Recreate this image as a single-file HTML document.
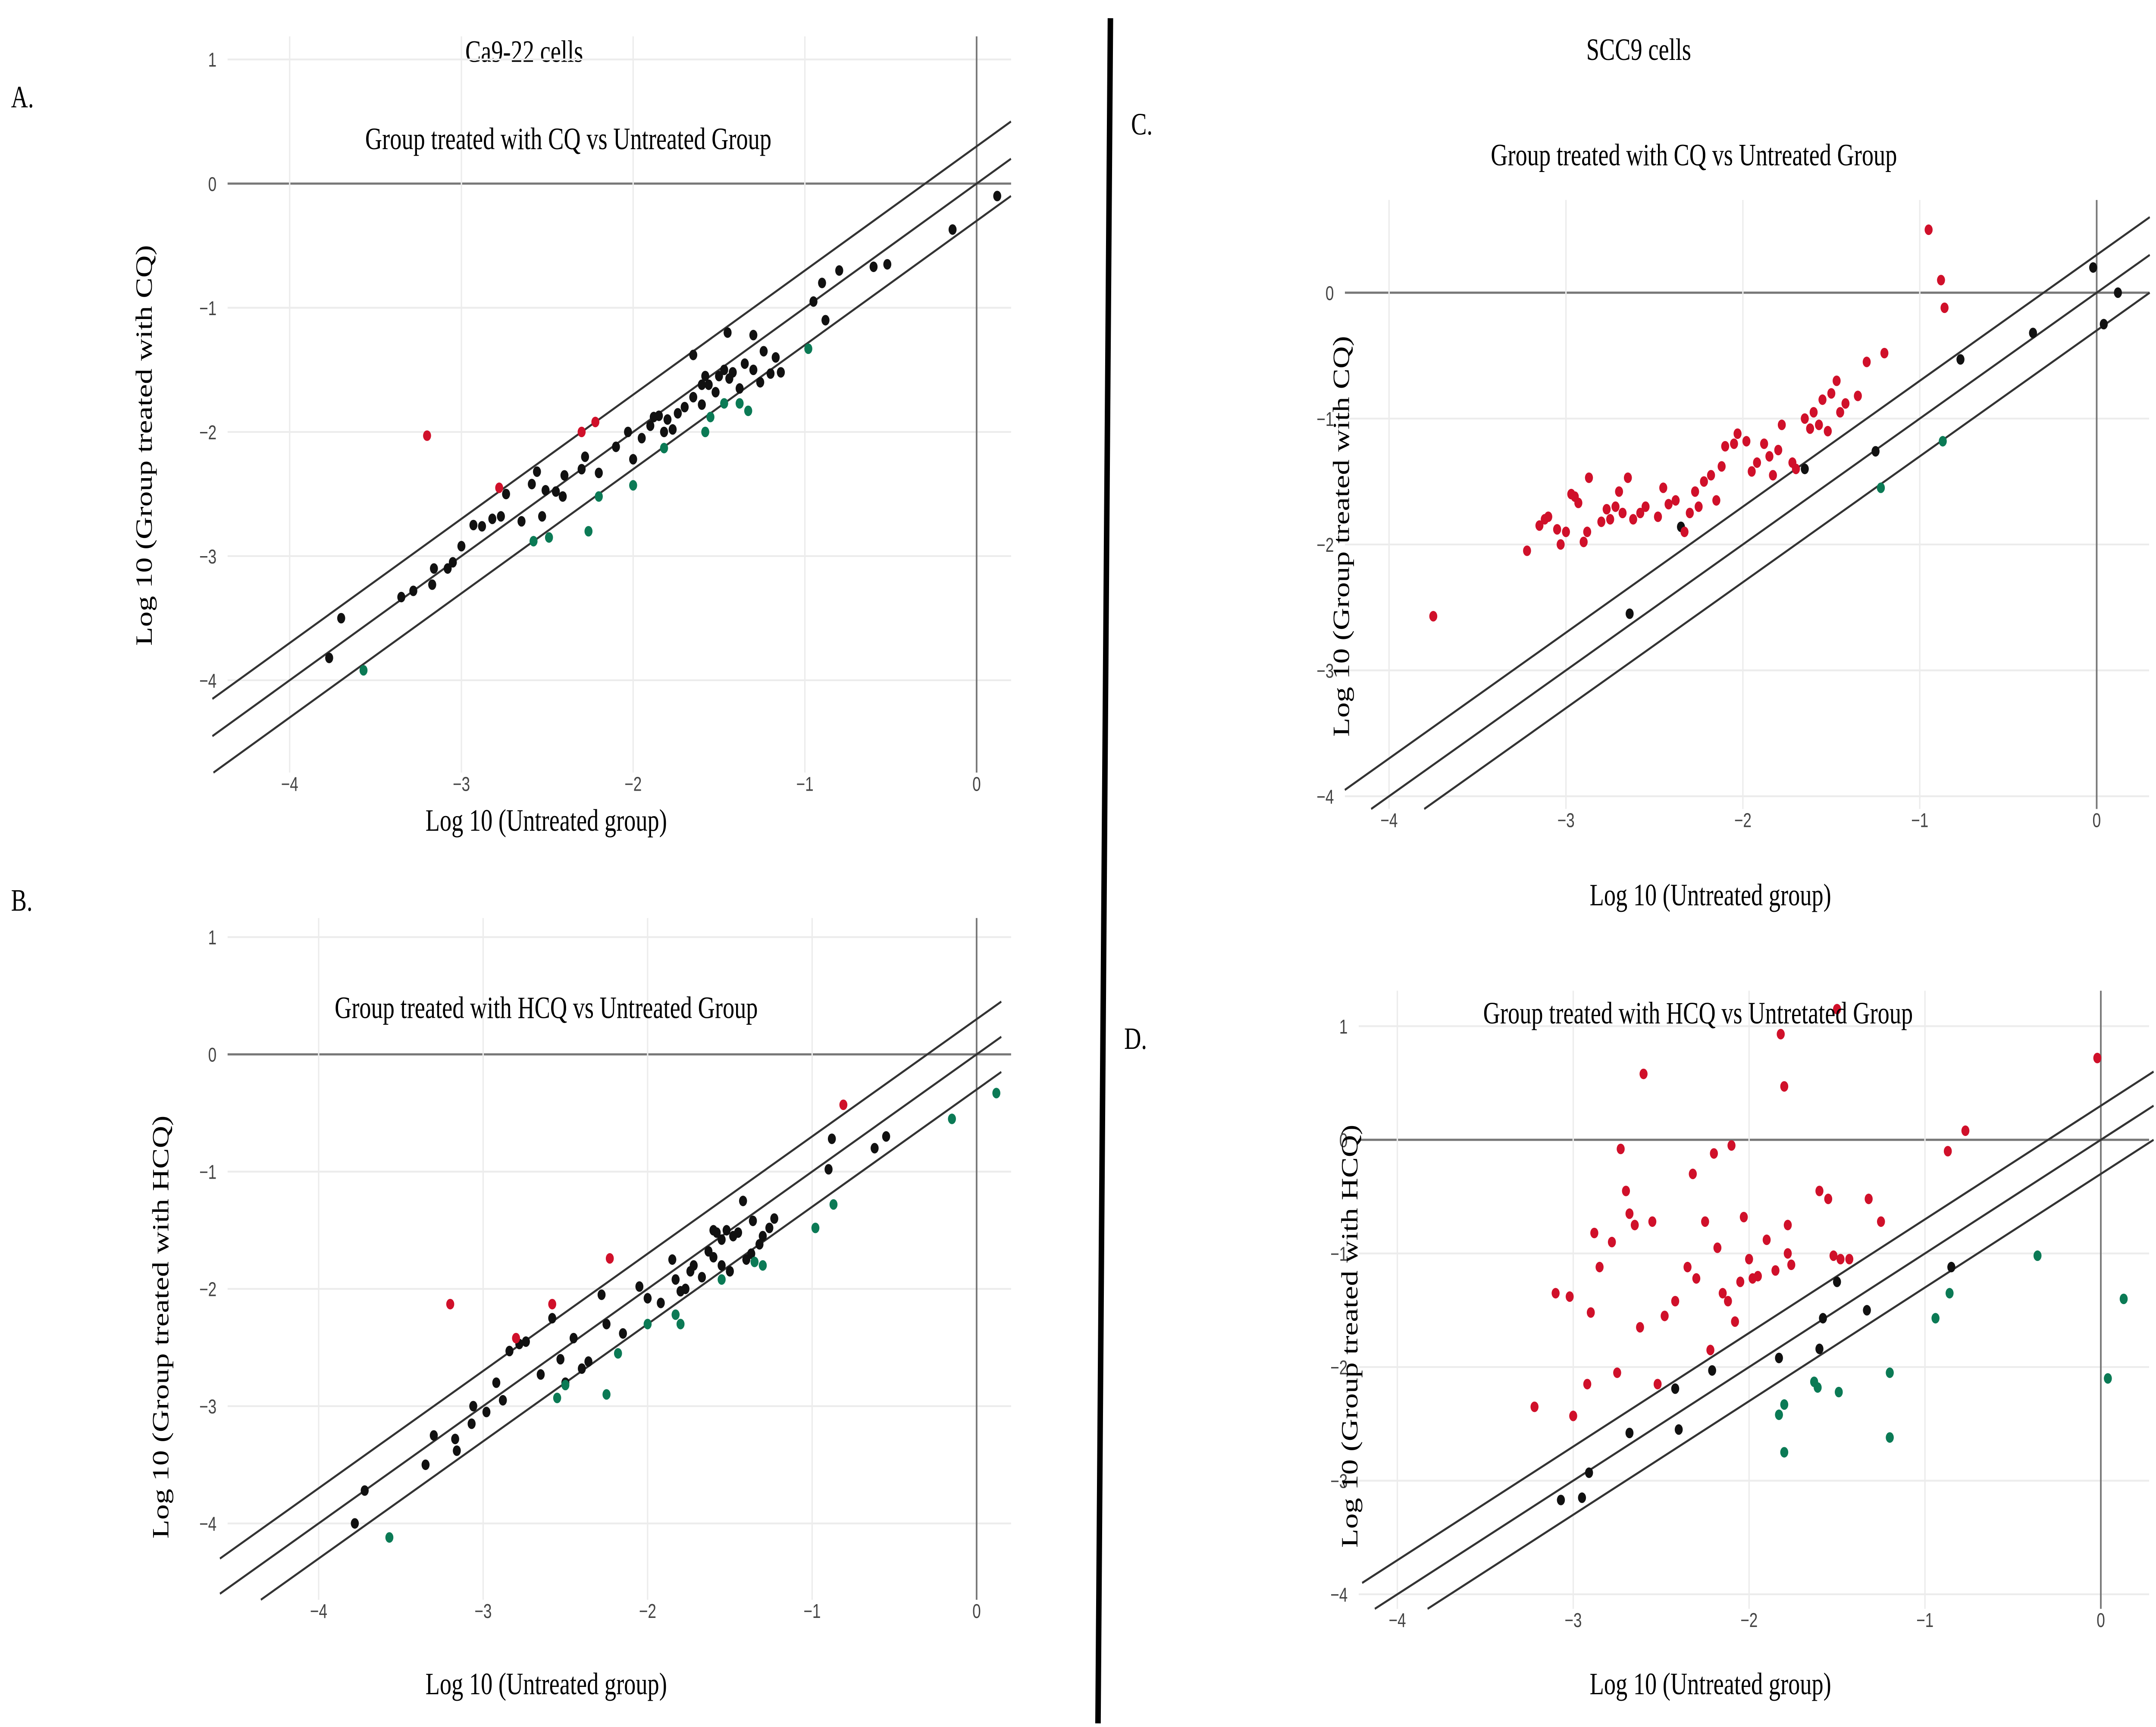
<!DOCTYPE html>
<html><head><meta charset="utf-8"><style>
html,body{margin:0;padding:0;background:#fff;width:100%;height:100%;overflow:hidden}
svg{display:block;width:100vw;height:100vh;position:absolute;left:0;top:0}
</style></head><body>
<svg id="fig" xmlns="http://www.w3.org/2000/svg" viewBox="0 0 1563 950" preserveAspectRatio="none">
<rect width="1563" height="950" fill="#fff"/>
<line x1="805" y1="10" x2="796" y2="948" stroke="#000" stroke-width="4"/>
<text x="8" y="59" font-family="Liberation Serif, serif" font-size="17">A.</text>
<text x="8" y="501" font-family="Liberation Serif, serif" font-size="17">B.</text>
<text x="820" y="74" font-family="Liberation Serif, serif" font-size="17">C.</text>
<text x="815" y="577" font-family="Liberation Serif, serif" font-size="17">D.</text>
<text x="380" y="34" text-anchor="middle" font-family="Liberation Serif, serif" font-size="17">Ca9-22 cells</text>
<text x="1188" y="33" text-anchor="middle" font-family="Liberation Serif, serif" font-size="17">SCC9 cells</text>
</svg>
<script>
// Panel A data
const aBlackX=[-3.77,-3.7,-3.35,-3.28,-3.17,-3.16,-3.08,-3.05,-3.0,-2.93,-2.88,-2.82,-2.77,-2.74,-2.65,-2.59,-2.56,-2.53,-2.51,-2.45,-2.41,-2.3,-2.28,-2.2,-2.1,-2.03,-2.0,-1.95,-1.85,-1.82,-1.8,-1.77,-1.74,-1.7,-1.65,-1.6,-1.56,-1.52,-1.5,-1.47,-1.44,-1.42,-1.38,-1.35,-1.3,-1.26,-1.24,-1.2,-1.17,-1.14,-1.6,-1.65,-1.58,-1.9,-1.88,-2.4,-1.3,-0.95,-0.9,-0.88,-0.8,-0.6,-0.52,-0.14,0.12,-1.45];
const aBlackY=[-3.82,-3.5,-3.33,-3.28,-3.23,-3.1,-3.1,-3.05,-2.92,-2.75,-2.76,-2.7,-2.68,-2.5,-2.72,-2.42,-2.32,-2.68,-2.47,-2.48,-2.52,-2.3,-2.2,-2.33,-2.12,-2.0,-2.22,-2.05,-1.87,-2.0,-1.9,-1.98,-1.85,-1.8,-1.72,-1.78,-1.62,-1.68,-1.55,-1.5,-1.57,-1.52,-1.65,-1.45,-1.5,-1.6,-1.35,-1.53,-1.4,-1.52,-1.62,-1.38,-1.55,-1.95,-1.88,-2.35,-1.22,-0.95,-0.8,-1.1,-0.7,-0.67,-0.65,-0.37,-0.1,-1.2];
const aRedX=[-3.2,-2.78,-2.3,-2.22];
const aRedY=[-2.03,-2.45,-2.0,-1.92];
const aGreenX=[-3.57,-2.58,-2.49,-2.26,-2.2,-2.0,-1.82,-1.58,-1.55,-1.47,-1.38,-1.33,-0.98];
const aGreenY=[-3.92,-2.88,-2.85,-2.8,-2.52,-2.43,-2.13,-2.0,-1.88,-1.77,-1.77,-1.83,-1.33];
// Panel B data
const bBlackX=[-3.78,-3.72,-3.35,-3.3,-3.17,-3.16,-3.07,-3.06,-2.98,-2.92,-2.88,-2.84,-2.78,-2.74,-2.65,-2.58,-2.53,-2.5,-2.45,-2.4,-2.36,-2.28,-2.25,-2.15,-2.05,-2.0,-1.92,-1.85,-1.83,-1.8,-1.77,-1.74,-1.72,-1.67,-1.63,-1.6,-1.58,-1.55,-1.52,-1.48,-1.45,-1.42,-1.4,-1.36,-1.32,-1.3,-1.26,-1.23,-1.6,-1.55,-1.5,-0.9,-0.88,-0.62,-0.55,-1.37];
const bBlackY=[-4.0,-3.72,-3.5,-3.25,-3.28,-3.38,-3.15,-3.0,-3.05,-2.8,-2.95,-2.53,-2.47,-2.45,-2.73,-2.25,-2.6,-2.8,-2.42,-2.68,-2.62,-2.05,-2.3,-2.38,-1.98,-2.08,-2.12,-1.75,-1.92,-2.02,-2.0,-1.85,-1.8,-1.9,-1.68,-1.73,-1.52,-1.58,-1.5,-1.55,-1.52,-1.25,-1.75,-1.42,-1.62,-1.55,-1.48,-1.4,-1.5,-1.8,-1.85,-0.98,-0.72,-0.8,-0.7,-1.7];
const bRedX=[-3.2,-2.8,-2.58,-2.23,-0.81];
const bRedY=[-2.13,-2.42,-2.13,-1.74,-0.43];
const bGreenX=[-3.57,-2.55,-2.5,-2.25,-2.18,-2.0,-1.83,-1.8,-1.55,-1.35,-1.3,-0.98,-0.87,-0.15,0.12];
const bGreenY=[-4.12,-2.93,-2.82,-2.9,-2.55,-2.3,-2.22,-2.3,-1.92,-1.77,-1.8,-1.48,-1.28,-0.55,-0.33];
// Panel C data
const cBlackX=[-2.64,-2.35,-1.65,-1.25,-0.77,-0.36,-0.02,0.04,0.12];
const cBlackY=[-2.55,-1.86,-1.4,-1.26,-0.53,-0.32,0.2,-0.25,0.0];
const cGreenX=[-1.22,-0.87];
const cGreenY=[-1.55,-1.18];
const cRedX=[-3.75,-3.22,-3.15,-3.12,-3.1,-3.05,-3.03,-3.0,-2.97,-2.95,-2.93,-2.9,-2.88,-2.87,-2.8,-2.77,-2.75,-2.72,-2.7,-2.68,-2.65,-2.62,-2.58,-2.55,-2.48,-2.45,-2.42,-2.38,-2.33,-2.3,-2.27,-2.25,-2.22,-2.18,-2.15,-2.12,-2.1,-2.05,-2.03,-1.98,-1.95,-1.92,-1.88,-1.85,-1.83,-1.8,-1.78,-1.72,-1.7,-1.65,-1.62,-1.6,-1.57,-1.55,-1.52,-1.5,-1.47,-1.45,-1.42,-1.35,-1.3,-1.2,-0.95,-0.88,-0.86];
const cRedY=[-2.57,-2.05,-1.85,-1.8,-1.78,-1.88,-2.0,-1.9,-1.6,-1.62,-1.67,-1.98,-1.9,-1.47,-1.82,-1.72,-1.8,-1.7,-1.58,-1.75,-1.47,-1.8,-1.75,-1.7,-1.78,-1.55,-1.68,-1.65,-1.9,-1.75,-1.58,-1.7,-1.5,-1.45,-1.65,-1.38,-1.22,-1.2,-1.12,-1.18,-1.42,-1.35,-1.2,-1.3,-1.45,-1.25,-1.05,-1.35,-1.4,-1.0,-1.08,-0.95,-1.05,-0.85,-1.1,-0.8,-0.7,-0.95,-0.88,-0.82,-0.55,-0.48,0.5,0.1,-0.12];
// Panel D data
const dBlackX=[-3.07,-2.95,-2.91,-2.68,-2.42,-2.4,-2.21,-1.83,-1.6,-1.58,-1.5,-1.33,-0.85];
const dBlackY=[-3.17,-3.15,-2.93,-2.58,-2.19,-2.55,-2.03,-1.92,-1.84,-1.57,-1.25,-1.5,-1.12];
const dGreenX=[-1.83,-1.8,-1.8,-1.63,-1.61,-1.49,-1.2,-1.2,-0.94,-0.86,-0.36,0.04,0.13];
const dGreenY=[-2.42,-2.33,-2.75,-2.13,-2.18,-2.22,-2.05,-2.62,-1.57,-1.35,-1.02,-2.1,-1.4];
const dRedX=[-3.22,-3.1,-3.02,-3.0,-2.92,-2.9,-2.88,-2.85,-2.78,-2.75,-2.73,-2.7,-2.68,-2.65,-2.62,-2.6,-2.55,-2.52,-2.48,-2.42,-2.35,-2.32,-2.3,-2.25,-2.22,-2.2,-2.18,-2.15,-2.12,-2.1,-2.08,-2.05,-2.03,-2.0,-1.98,-1.95,-1.9,-1.85,-1.82,-1.8,-1.78,-1.78,-1.76,-1.6,-1.55,-1.52,-1.5,-1.48,-1.43,-1.32,-1.25,-0.87,-0.77,-0.02];
const dRedY=[-2.35,-1.35,-1.38,-2.43,-2.15,-1.52,-0.82,-1.12,-0.9,-2.05,-0.08,-0.45,-0.65,-0.75,-1.65,0.58,-0.72,-2.15,-1.55,-1.42,-1.12,-0.3,-1.22,-0.72,-1.85,-0.12,-0.95,-1.35,-1.42,-0.05,-1.6,-1.25,-0.68,-1.05,-1.22,-1.2,-0.88,-1.15,0.93,0.47,-0.75,-1.0,-1.1,-0.45,-0.52,-1.02,1.15,-1.05,-1.05,-0.52,-0.72,-0.1,0.08,0.72];
const xTicks=[-4,-3,-2,-1,0];
const yTicksA=[-4,-3,-2,-1,0,1];
const yTicksC=[-4,-3,-2,-1,0];
const diagOffsets=[0.3,0,-0.3];

const NS='http://www.w3.org/2000/svg';
const svg=document.getElementById('fig');
function mk(tag,attrs,parent){const e=document.createElementNS(NS,tag);for(const k in attrs)e.setAttribute(k,attrs[k]);(parent||svg).appendChild(e);return e;}
const BLACK='#111',RED='#d0102a',GREEN='#0b7a55';

function panel(p){
  const g=mk('g',{});
  
  
  const sx=v=>p.x0+(v+4)*(p.x4-p.x0)/4;
  const sy=v=>p.y0-v*p.ky;
  p.yt.forEach(t=>{const l=mk('line',{x1:p.l,x2:p.r,y1:sy(t),y2:sy(t),stroke:t===0?'#777':'#ececec','stroke-width':t===0?1.2:1},g);
    
    
    const tx=mk('text',{x:p.l-8,y:sy(t)+4,'text-anchor':'end','font-family':'Liberation Sans, sans-serif','font-size':11,fill:'#444'},g);
    tx.textContent=t<0?'\u2212'+(-t):String(t);
    
    });
  xTicks.forEach(t=>{const l=mk('line',{x1:sx(t),x2:sx(t),y1:p.t,y2:p.b,stroke:t===0?'#777':'#ececec','stroke-width':t===0?1.2:1},g);
    
    
    const tx=mk('text',{x:sx(t),y:p.b+10,'text-anchor':'middle','font-family':'Liberation Sans, sans-serif','font-size':11,fill:'#444'},g);
    tx.textContent=t<0?'\u2212'+(-t):String(t);
    
    });
  diagOffsets.forEach(o=>{
    let xa=p.xmin, xb=p.xmax;
    const ybot=(p.y0-p.b)/p.ky;
    if(xa+o<ybot) xa=ybot-o;
    const l=mk('line',{x1:sx(xa),y1:sy(xa+o),x2:sx(xb),y2:sy(xb+o),stroke:'#333','stroke-width':1.2},g);
    
    
  });
  [[p.bx,p.by,BLACK,'black'],[p.rx,p.ry,RED,'red'],[p.gx,p.gy,GREEN,'green']].forEach(([xs,ys,c,n])=>{
    xs.forEach((v,i)=>{const d=mk('circle',{cx:sx(v),cy:sy(ys[i]),r:2.9,fill:c},g);
      
      });
  });
  const tt=mk('text',{x:p.tx,y:p.ty,'text-anchor':'middle','font-family':'Liberation Serif, serif','font-size':17},g);
  tt.textContent=p.title;
  
  
  const xl=mk('text',{x:p.xlx,y:p.xly,'text-anchor':'middle','font-family':'Liberation Serif, serif','font-size':17},g);
  xl.textContent='Log 10 (Untreated group)';
  
  
  const yl=mk('text',{x:0,y:0,'text-anchor':'middle','font-family':'Liberation Serif, serif','font-size':17,transform:'translate('+p.ylx+','+p.yly+') rotate(-90)'},g);
  yl.textContent=p.ytitle;
  
  
}

panel({id:'a',x0:210,x4:708,y0:101,ky:68.3,l:165,r:733,t:20,b:425,xmin:-4.45,xmax:0.2,yt:yTicksA,
  bx:aBlackX,by:aBlackY,rx:aRedX,ry:aRedY,gx:aGreenX,gy:aGreenY,
  title:'Group treated with CQ vs Untreated Group',tx:412,ty:82,xlx:396,xly:457,ylx:110,yly:245,ytitle:'Log 10 (Group  treated with CQ)'});
panel({id:'b',x0:231,x4:708,y0:580,ky:64.5,l:165,r:733,t:505,b:880,xmin:-4.6,xmax:0.15,yt:yTicksA,
  bx:bBlackX,by:bBlackY,rx:bRedX,ry:bRedY,gx:bGreenX,gy:bGreenY,
  title:'Group treated with HCQ vs Untreated Group',tx:396,ty:560,xlx:396,xly:932,ylx:122,yly:730,ytitle:'Log 10 (Group treated with HCQ)'});
panel({id:'c',x0:1007,x4:1520,y0:161,ky:69.25,l:975,r:1558,t:110,b:445,xmin:-4.25,xmax:0.3,yt:yTicksC,
  bx:cBlackX,by:cBlackY,rx:cRedX,ry:cRedY,gx:cGreenX,gy:cGreenY,
  title:'Group treated with CQ vs Untreated Group',tx:1228,ty:91,xlx:1240,xly:498,ylx:978,yly:295,ytitle:'Log 10 (Group treated with CQ)'});
panel({id:'d',x0:1013,x4:1523,y0:627,ky:62.5,l:985,r:1558,t:545,b:885,xmin:-4.2,xmax:0.3,yt:yTicksA,
  bx:dBlackX,by:dBlackY,rx:dRedX,ry:dRedY,gx:dGreenX,gy:dGreenY,
  title:'Group treated with HCQ vs Untretated Group',tx:1231,ty:563,xlx:1240,xly:932,ylx:984,yly:735,ytitle:'Log 10 (Group treated with HCQ)'});
</script>
</body></html>
